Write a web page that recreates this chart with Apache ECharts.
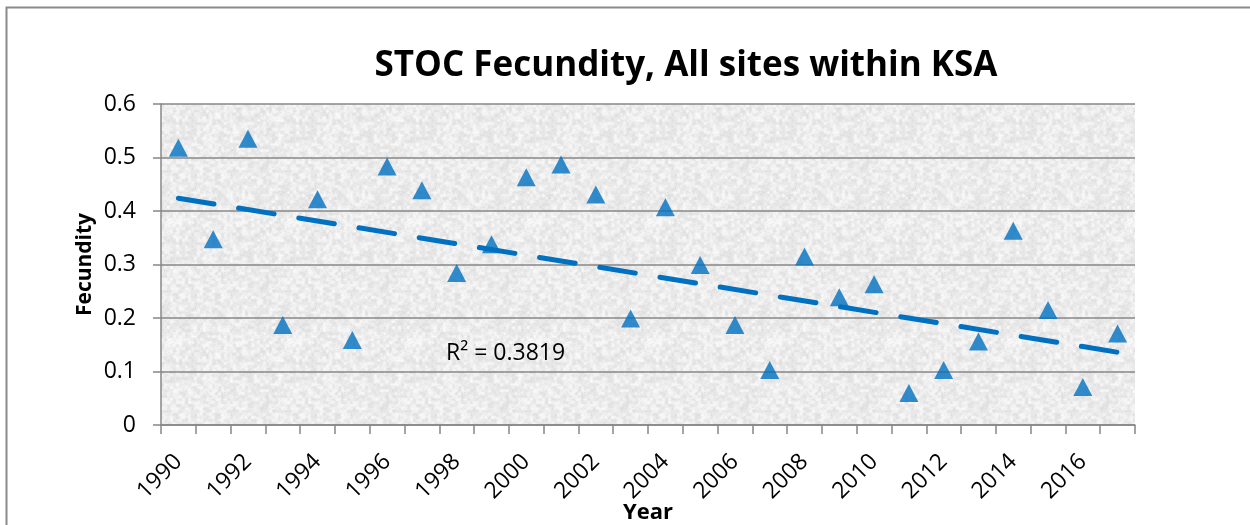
<!DOCTYPE html>
<html>
<head>
<meta charset="utf-8">
<script src="https://cdn.jsdelivr.net/npm/echarts@6/dist/echarts.min.js"></script>
<style>
html,body{margin:0;padding:0;background:#fff;}
#chart{width:1250px;height:525px;}
</style>
</head>
<body>
<div id="chart"></div>
<script>
// ---- data ----
var years = ['1990','1991','1992','1993','1994','1995','1996','1997','1998','1999',
             '2000','2001','2002','2003','2004','2005','2006','2007','2008','2009',
             '2010','2011','2012','2013','2014','2015','2016','2017'];
var fecundity = [0.518,0.347,0.535,0.187,0.422,0.159,0.483,0.439,0.284,0.338,
                 0.463,0.487,0.431,0.199,0.407,0.299,0.187,0.103,0.315,0.239,
                 0.263,0.060,0.103,0.156,0.363,0.215,0.071,0.171];
// linear trendline end values
var trendYears = ['1990','2017'];
var trendValues = [0.424, 0.136];
var yTickLabels = ['0','0.1','0.2','0.3','0.4','0.5','0.6'];
var titleText = 'STOC Fecundity, All sites within KSA';
var r2Label = 'R\u00B2 = 0.3819';
var xName = 'Year';
var yName = 'Fecundity';

// ---- deterministic paper-like texture ----
function hash(x, y) {
  var h = Math.imul(x, 374761393) + Math.imul(y, 668265263);
  h = Math.imul(h ^ (h >>> 13), 1274126177);
  h = h ^ (h >>> 16);
  return (h >>> 0) / 4294967295;
}
function makeTexture() {
  var S = 120, c = document.createElement('canvas');
  c.width = S; c.height = S;
  var ctx = c.getContext('2d');
  var img = ctx.createImageData(S, S);
  var cell = 3, n = S / cell;
  function vn(x, y) {
    var gx = x / cell, gy = y / cell;
    var x0 = Math.floor(gx), y0 = Math.floor(gy);
    var fx = gx - x0, fy = gy - y0;
    fx = fx * fx * (3 - 2 * fx); fy = fy * fy * (3 - 2 * fy);
    var a = hash(x0 % n, y0 % n), b = hash((x0 + 1) % n, y0 % n);
    var c2 = hash(x0 % n, (y0 + 1) % n), d = hash((x0 + 1) % n, (y0 + 1) % n);
    return (a * (1 - fx) + b * fx) * (1 - fy) + (c2 * (1 - fx) + d * fx) * fy;
  }
  for (var y = 0; y < S; y++) {
    for (var x = 0; x < S; x++) {
      var v = vn(x, y) * 0.7 + hash(x + 1000, y + 2000) * 0.3;
      var g = Math.round(218 + v * 36);
      if (g > 250) g = 250;
      var i = (y * S + x) * 4;
      img.data[i] = g; img.data[i + 1] = g; img.data[i + 2] = g; img.data[i + 3] = 255;
    }
  }
  ctx.putImageData(img, 0, 0);
  return c;
}

var axisGray = '#878787';
var labelFont = '"Open Sans", "Liberation Sans", sans-serif';
var blue = '#0070C0';

var chart = echarts.init(document.getElementById('chart'), null, {renderer: 'canvas'});
chart.setOption({
  animation: false,
  backgroundColor: '#ffffff',
  grid: {
    left: 161, right: 115, top: 104, bottom: 100,
    containLabel: false,
    outerBoundsMode: 'none',
    show: true, borderWidth: 0,
    backgroundColor: {image: makeTexture(), repeat: 'repeat'}
  },
  xAxis: {
    type: 'category',
    data: years,
    boundaryGap: true,
    name: xName,
    nameLocation: 'middle',
    nameGap: 77,
    nameMoveOverlap: false,
    nameTextStyle: {fontFamily: labelFont, fontWeight: 'bold', fontSize: 22, color: '#000'},
    axisLine: {show: true, lineStyle: {color: axisGray, width: 1.5}},
    axisTick: {show: true, interval: 0, length: 9, lineStyle: {color: axisGray, width: 1.5}},
    axisLabel: {interval: 1, rotate: 45, margin: 33, fontFamily: labelFont, fontSize: 23, color: '#000'},
    splitLine: {show: false}
  },
  yAxis: {
    type: 'value',
    min: 0, max: 0.6, interval: 0.1,
    name: yName,
    nameLocation: 'middle',
    nameRotate: 90,
    nameGap: 65,
    nameMoveOverlap: false,
    nameTextStyle: {fontFamily: labelFont, fontWeight: 'bold', fontSize: 21, color: '#000'},
    axisLine: {show: true, lineStyle: {color: axisGray, width: 1.5}},
    axisTick: {show: true, length: 8, lineStyle: {color: axisGray, width: 1.5}},
    axisLabel: {
      margin: 25, fontFamily: labelFont, fontSize: 23, color: '#000',
      formatter: function (v) { return yTickLabels[Math.round(v * 10)]; }
    },
    splitLine: {show: true, lineStyle: {color: axisGray, width: 1.5}}
  },
  graphic: [
    {type: 'rect', shape: {x: 6.5, y: 7.5, width: 1400, height: 700}, z: -10,
     style: {fill: 'none', stroke: '#8a8a8a', lineWidth: 2}},
    {type: 'text', x: 686, y: 66, z: 10,
     style: {text: titleText, textAlign: 'center', textVerticalAlign: 'middle',
             font: 'bold 35px "Open Sans", sans-serif', fill: '#000'}},
    {type: 'text', x: 446, y: 353, z: 10,
     style: {text: r2Label, textAlign: 'left', textVerticalAlign: 'middle',
             font: '23px "Open Sans", "Liberation Sans", sans-serif', fill: '#000'}}
  ],
  series: [
    {
      name: 'Trend',
      type: 'line',
      data: [[trendYears[0], trendValues[0]], [trendYears[1], trendValues[1]]],
      symbol: 'none',
      lineStyle: {color: blue, width: 5, type: [36, 25], cap: 'round'},
      z: 2
    },
    {
      name: 'Fecundity',
      type: 'scatter',
      data: fecundity,
      symbol: 'triangle',
      symbolSize: [19, 18],
      itemStyle: {color: blue},
      z: 3
    }
  ]
});
</script>
</body>
</html>
